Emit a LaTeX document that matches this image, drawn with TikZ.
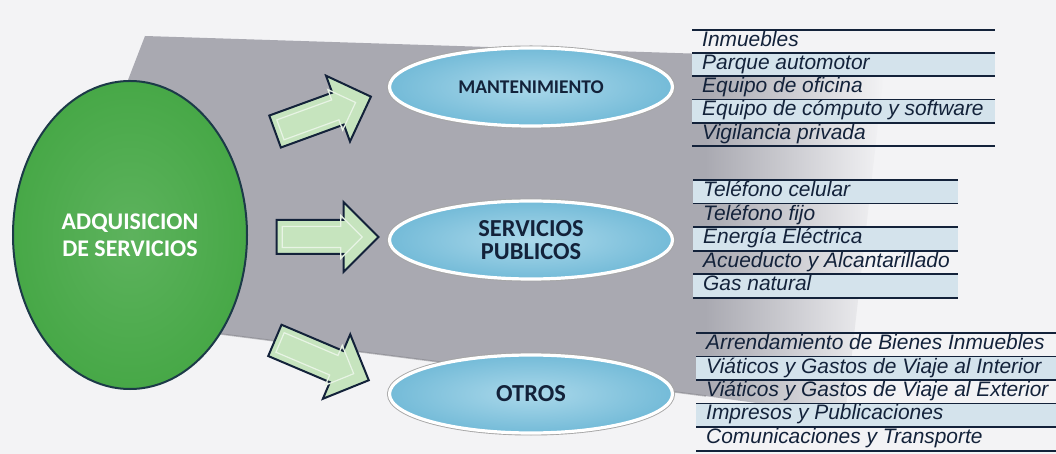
\documentclass[tikz,border=0pt]{standalone}
\usepackage{fontspec}
\setmainfont{Liberation Sans}
\newfontfamily\carlito{Carlito}
\usetikzlibrary{shapes.arrows,shapes.geometric}
\definecolor{bgc}{HTML}{F3F3F5}
\definecolor{slab}{HTML}{A9A9B1}
\definecolor{grn}{HTML}{47A847}
\definecolor{grnedge}{HTML}{1C3A48}
\definecolor{blu}{HTML}{74BBD8}
\definecolor{blulight}{HTML}{AAD8EA}
\definecolor{navy}{HTML}{13223A}
\definecolor{arrfill}{HTML}{C6E4BE}
\definecolor{rowblue}{HTML}{D4E3EC}
\tikzset{
  catnode/.style={ellipse, minimum width=283bp, minimum height=78bp,
    preaction={draw=gray!70, line width=5bp},
    draw=white, line width=3.2bp, inner color=blulight, outer color=blu,
    text=navy, align=center, inner sep=0pt},
  blockarrow/.style={single arrow, draw=navy, line width=2bp, fill=arrfill,
    minimum height=102bp, single arrow head extend=18bp, inner sep=0pt},
  bevelarrow/.style={single arrow, draw=white!60!arrfill, line width=1.2bp,
    minimum height=80bp, single arrow head extend=11bp, inner sep=0pt},
  listrow/.style={rectangle, anchor=north west, inner xsep=10bp, inner ysep=0pt,
    minimum height=#1, text=navy,
    font=\itshape\fontsize{21}{21}\selectfont},
  rowrule/.style={draw=navy, line width=1.8bp}
}
\begin{document}
\begin{tikzpicture}[x=1bp,y=-1bp]
\useasboundingbox (0,0) rectangle (1056,454);
\fill[bgc] (0,0) rectangle (1056,454);
% grey slab behind
\fill[slab] (145,36) -- (706,54) -- (706,396) -- (150,325) -- (128,80) -- cycle;
\shade[left color=slab, right color=bgc] (705,54) -- (885,62) -- (845,415) -- (705,396) -- cycle;
\draw[slab!75!black, line width=1.5bp, opacity=0.5] (150,325) -- (706,396);

% root
\node[ellipse, minimum width=234bp, minimum height=308bp, draw=grnedge, line width=2bp,
  inner color=grn!88!white, outer color=grn, text=white, align=center,
  font=\carlito\bfseries\fontsize{24}{27}\selectfont] (root) at (130,235) {ADQUISICION\\DE SERVICIOS};

% categories
\node[catnode, font=\carlito\bfseries\fontsize{19.5}{20}\selectfont] (mant) at (531,87) {MANTENIMIENTO};
\node[catnode, font=\carlito\bfseries\fontsize{24.5}{23}\selectfont] (serv) at (531,240) {SERVICIOS\\PUBLICOS};
\node[catnode, font=\carlito\bfseries\fontsize{24.5}{24}\selectfont] (otros) at (531,394) {OTROS};

% block arrows
\node[blockarrow, rotate=20] (a1) at (315,117) {\rule{0pt}{32bp}};
\node[bevelarrow, rotate=20] (b1) at (313,118) {\rule{0pt}{20bp}};
\node[blockarrow] (a2) at (319,237) {\rule{0pt}{32bp}};
\node[bevelarrow] (b2) at (317,237) {\rule{0pt}{20bp}};
\node[blockarrow, rotate=-23] (a3) at (314,357) {\rule{0pt}{32bp}};
\node[bevelarrow, rotate=-23] (b3) at (312,356) {\rule{0pt}{20bp}};

% list 1
\foreach \t [count=\i] in {Inmuebles, Parque automotor, Equipo de oficina, Equipo de cómputo y software, Vigilancia privada}{
  \pgfmathsetmacro{\yy}{30+23.2*(\i-1)}
  \pgfmathtruncatemacro{\ev}{mod(\i,2)}
  \ifnum\ev=0
    \node[listrow=23.2bp, fill=rowblue] (m\i) at (692,\yy) {\makebox[283bp][l]{\strut\t}};
  \else
    \node[listrow=23.2bp] (m\i) at (692,\yy) {\makebox[283bp][l]{\strut\t}};
  \fi
  \draw[rowrule] (m\i.north west) -- (m\i.north east);
}
\draw[rowrule] (m5.south west) -- (m5.south east);

% list 2
\foreach \t [count=\i] in {Teléfono celular, Teléfono fijo, Energía Eléctrica, Acueducto y Alcantarillado, Gas natural}{
  \pgfmathsetmacro{\yy}{180+23.6*(\i-1)}
  \pgfmathtruncatemacro{\ev}{mod(\i,2)}
  \ifnum\ev=1
    \node[listrow=23.6bp, fill=rowblue] (s\i) at (693,\yy) {\makebox[245bp][l]{\strut\t}};
  \else
    \node[listrow=23.6bp] (s\i) at (693,\yy) {\makebox[245bp][l]{\strut\t}};
  \fi
  \draw[rowrule] (s\i.north west) -- (s\i.north east);
}
\draw[rowrule] (s5.south west) -- (s5.south east);

% list 3
\foreach \t [count=\i] in {Arrendamiento de Bienes Inmuebles, Viáticos y Gastos de Viaje al Interior, Viáticos y Gastos de Viaje al Exterior, Impresos y Publicaciones, Comunicaciones y Transporte}{
  \pgfmathsetmacro{\yy}{333+23.5*(\i-1)}
  \pgfmathtruncatemacro{\ev}{mod(\i,2)}
  \ifnum\ev=0
    \node[listrow=23.5bp, fill=rowblue] (o\i) at (696,\yy) {\makebox[350bp][l]{\strut\t}};
  \else
    \node[listrow=23.5bp] (o\i) at (696,\yy) {\makebox[350bp][l]{\strut\t}};
  \fi
  \draw[rowrule] (o\i.north west) -- (o\i.north east);
}
\draw[rowrule] (o5.south west) -- (o5.south east);
\end{tikzpicture}
\end{document}
